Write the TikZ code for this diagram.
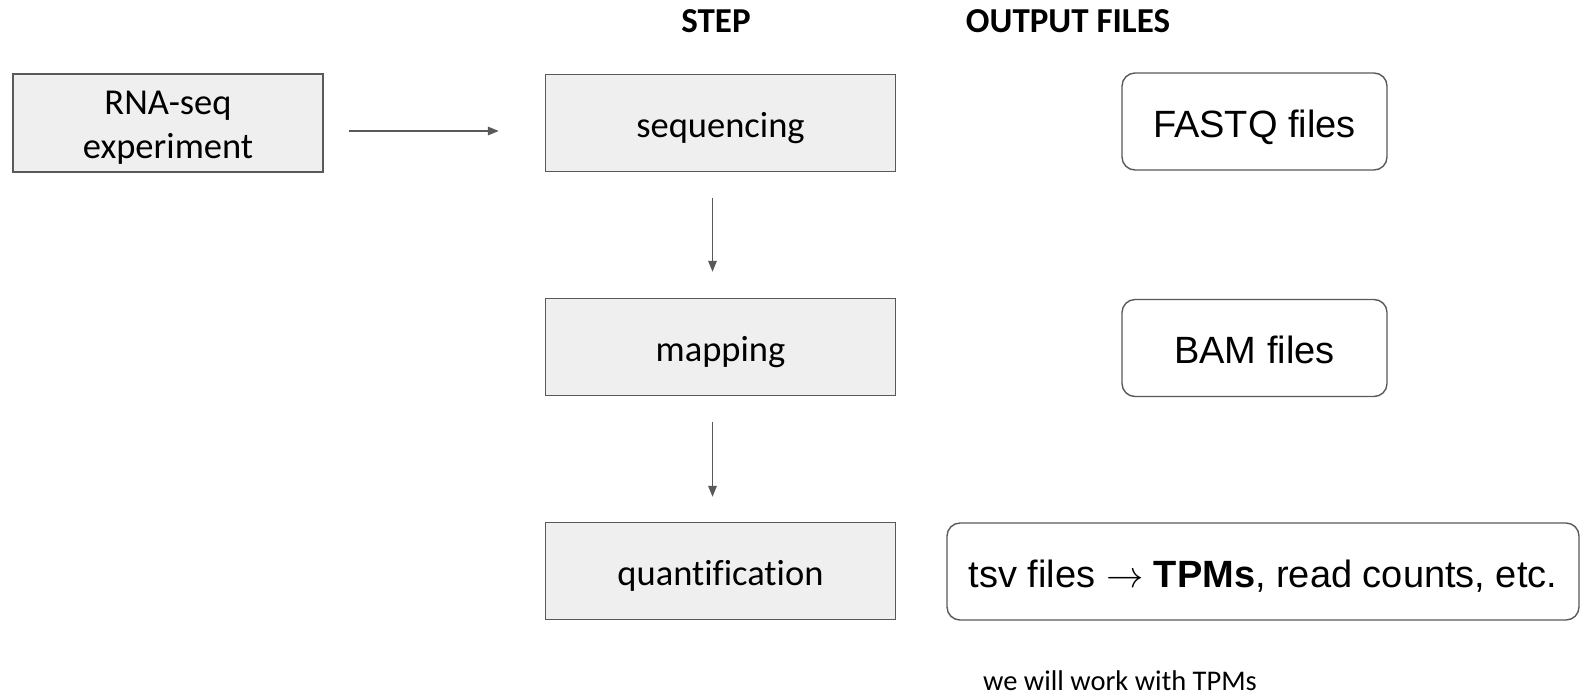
\documentclass[tikz,border=0pt]{standalone}
\usepackage{fontspec}
\setmainfont{Carlito}[Ligatures=NoCommon]
\newfontfamily\arialfont{Liberation Sans}
\usetikzlibrary{arrows.meta}
\definecolor{boxfill}{HTML}{EFEFEF}
\definecolor{edge}{HTML}{595959}
\tikzset{
  stepbox/.style={draw=edge, line width=1.4pt, fill=boxfill, minimum width=350pt,
    minimum height=97pt, inner sep=0pt, align=center,
    text height=28pt, text depth=0pt,
    font=\fontsize{36.5}{44}\selectfont},
  outbox/.style={draw=edge, line width=1.4pt, fill=white, rounded corners=13pt,
    minimum height=97pt, inner sep=0pt, text height=31pt, text depth=0pt,
    font=\arialfont\fontsize{38}{44}\selectfont},
  heading/.style={anchor=base, font=\bfseries\fontsize{35}{40}\selectfont},
  flow/.style={draw=edge, line width=1.6pt, -{Triangle[length=11pt,width=8.5pt]}}
}
\begin{document}
\begin{tikzpicture}[x=1pt, y=-1pt]
\useasboundingbox (0,0) rectangle (1581,694);

% column headings
\node[heading] (hstep) at (716,32.7) {STEP};
\node[heading] (hout) at (1068,32.7) {OUTPUT FILES};

% pipeline steps
\node[stepbox, minimum width=310pt, minimum height=98pt, text height=70.6pt, text depth=0pt]
  (rna) at (168,123) {RNA-seq\\experiment};
\node[stepbox] (seq) at (720.5,123) {sequencing};
\node[stepbox] (map) at (720.5,347) {mapping};
\node[stepbox] (quant) at (720.5,571) {quantification};

% produced files
\node[outbox, minimum width=265pt] (fastq) at (1254.5,121.5) {FASTQ files};
\node[outbox, minimum width=265pt] (bam) at (1254.5,348) {BAM files};
\node[outbox, minimum width=632pt] (tsv) at (1263,571.5)
  {tsv files \scalebox{1.5}{$\rightarrow$} \textbf{TPMs}, read counts, etc.};

\node[anchor=base west, inner sep=0pt, font=\fontsize{28.5}{32}\selectfont]
  (note) at (983,690) {we will work with TPMs};

% connectors
\draw[flow, shorten <=25pt, shorten >=46pt] ([yshift=-8pt]rna.east) -- ([yshift=-8pt]seq.west);
\draw[flow, shorten <=26pt, shorten >=26pt] ([xshift=-8pt]seq.south) -- ([xshift=-8pt]map.north);
\draw[flow, shorten <=26pt, shorten >=25pt] ([xshift=-8pt]map.south) -- ([xshift=-8pt]quant.north);
\end{tikzpicture}
\end{document}
